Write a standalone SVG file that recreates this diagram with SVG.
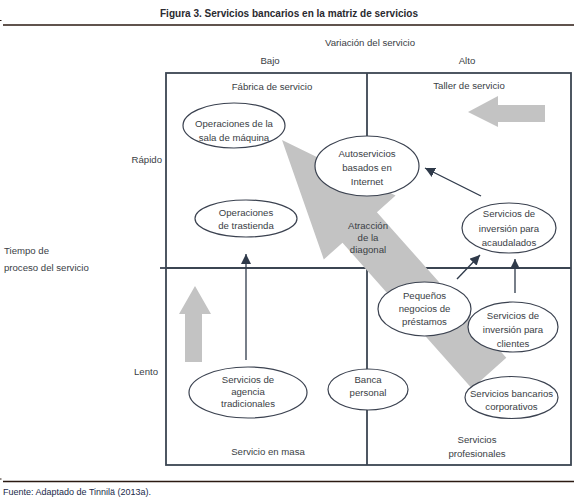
<svg xmlns="http://www.w3.org/2000/svg" width="574" height="502" viewBox="0 0 574 502">
<style>
text{font-family:"Liberation Sans",Arial,sans-serif;font-size:9.6px;fill:#3a3e45}
.c{text-anchor:middle}
.r{text-anchor:end}
.grid{stroke:#3b4552;stroke-width:1.8;fill:none}
.node ellipse{fill:#fff;stroke:#3b4250;stroke-width:1.2}
.gray{fill:#c3c3c3}
.con line{stroke:#2f3a4a;stroke-width:1.3;marker-end:url(#ah)}
</style>
<defs>
<marker id="ah" markerUnits="userSpaceOnUse" markerWidth="11" markerHeight="10" refX="10" refY="5" orient="auto">
<path d="M0,0 L10,5 L0,10 z" fill="#2f3a4a"/>
</marker>
</defs>
<rect width="574" height="502" fill="#fff"/>
<text x="289" y="17" class="c" style="font-weight:bold;font-size:10.5px;fill:#2a2a30" textLength="258" lengthAdjust="spacingAndGlyphs">Figura 3. Servicios bancarios en la matriz de servicios</text>
<line x1="3" y1="25" x2="574" y2="25" stroke="#2b1a12" stroke-width="1.3"/>
<line x1="0" y1="20.5" x2="1.5" y2="20.5" stroke="#2b1a12" stroke-width="1"/>
<text x="370" y="46" class="c">Variación del servicio</text>
<text x="270" y="64" class="c">Bajo</text>
<text x="467" y="64" class="c">Alto</text>
<text x="162" y="163" class="r">Rápido</text>
<text x="158" y="375" class="r">Lento</text>
<text x="4" y="254">Tiempo de</text>
<text x="4" y="271">proceso del servicio</text>
<line x1="160" y1="268" x2="166" y2="268" class="grid" stroke-width="1.2"/>
<g id="matrix">
<rect x="166" y="73" width="405" height="392" class="grid"/>
<line x1="367" y1="73" x2="367" y2="465" class="grid"/>
<line x1="166" y1="268" x2="571" y2="268" class="grid"/>
</g>
<text x="272" y="90" class="c">Fábrica de servicio</text>
<text x="469" y="89" class="c">Taller de servicio</text>
<text x="268" y="455" class="c">Servicio en masa</text>
<text x="477" y="443" class="c">Servicios</text>
<text x="477" y="457" class="c">profesionales</text>
<g id="gray-arrows">
<polygon class="gray" points="282,140 395.6,195.6 376.9,212.2 506.3,357.8 471.9,388.4 342.5,242.8 323.8,259.4"/>
<polygon class="gray" points="195,286 211,314 202,314 202,362 185,362 185,314 179,314"/>
<polygon class="gray" points="468,112 498,96 498,105 545,105 545,122 498,122 498,127"/>
</g>
<text x="368" y="229" class="c">Atracción</text>
<text x="368" y="241" class="c">de la</text>
<text x="368" y="253" class="c">diagonal</text>
<g id="n1" class="node"><ellipse cx="234" cy="125.5" rx="51" ry="22.5"/>
<text x="234" y="127" class="c">Operaciones de la</text><text x="234" y="140.5" class="c">sala de máquina</text></g>
<g id="n2" class="node"><ellipse cx="246" cy="218.5" rx="51" ry="18.5"/>
<text x="246" y="216" class="c">Operaciones</text><text x="246" y="229" class="c">de trastienda</text></g>
<g id="n3" class="node"><ellipse cx="367" cy="166" rx="52" ry="30"/>
<text x="367" y="157" class="c">Autoservicios</text><text x="367" y="171" class="c">basados en</text><text x="367" y="185" class="c">Internet</text></g>
<g id="n4" class="node"><ellipse cx="509" cy="228" rx="47" ry="25"/>
<text x="509" y="217" class="c">Servicios de</text><text x="509" y="232" class="c">inversión para</text><text x="509" y="246" class="c">acaudalados</text></g>
<g id="n5" class="node"><ellipse cx="424.5" cy="309" rx="46.5" ry="27"/>
<text x="424.5" y="299" class="c">Pequeños</text><text x="424.5" y="312" class="c">negocios de</text><text x="424.5" y="325" class="c">préstamos</text></g>
<g id="n6" class="node"><ellipse cx="513" cy="327" rx="45" ry="25"/>
<text x="513" y="319" class="c">Servicios de</text><text x="513" y="333" class="c">inversión para</text><text x="513" y="347" class="c">clientes</text></g>
<g id="n7" class="node"><ellipse cx="511.5" cy="397.5" rx="46.5" ry="21"/>
<text x="511.5" y="397" class="c">Servicios bancarios</text><text x="511.5" y="410" class="c">corporativos</text></g>
<g id="n8" class="node"><ellipse cx="368" cy="389.5" rx="40" ry="20.5"/>
<text x="368" y="383" class="c">Banca</text><text x="368" y="396" class="c">personal</text></g>
<g id="n9" class="node"><ellipse cx="248" cy="392.5" rx="59" ry="25.5"/>
<text x="248" y="383" class="c">Servicios de</text><text x="248" y="395" class="c">agencia</text><text x="248" y="407" class="c">tradicionales</text></g>
<g id="connectors" class="con">
<line x1="246" y1="360" x2="246" y2="254"/>
<line x1="481" y1="196" x2="425" y2="168"/>
<line x1="457" y1="279" x2="480" y2="255"/>
<line x1="515" y1="293" x2="515" y2="259"/>
</g>
<line x1="3" y1="481.5" x2="574" y2="481.5" stroke="#2b1a12" stroke-width="1.3"/>
<line x1="0" y1="479" x2="1.5" y2="479" stroke="#2b1a12" stroke-width="1"/>
<text x="3" y="495" style="font-size:9px;fill:#1a2a4a">Fuente: Adaptado de Tinnilä (2013a).</text>
</svg>
